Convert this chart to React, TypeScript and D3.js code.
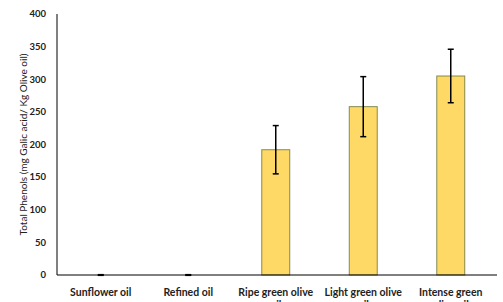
import React from 'react';
import * as d3 from 'd3';

const categories = ['Sunflower oil', 'Refined oil', 'Ripe green olive oil', 'Light green olive oil', 'Intense green olive oil'];
const labelLines = [['Sunflower oil'], ['Refined oil'], ['Ripe green olive', 'oil'], ['Light green olive', 'oil'], ['Intense green', 'olive oil']];
const values = [0, 0, 192, 258, 305];
const errors = [0.5, 0.5, 37, 46, 41];
const yTicks = [0, 50, 100, 150, 200, 250, 300, 350, 400];

const width = 503;
const height = 302;
const margin = { top: 14, right: 8, bottom: 27, left: 57 };

export default function App() {
  const x = d3
    .scaleBand<string>()
    .domain(categories)
    .range([margin.left, 494.5])
    .paddingInner(0.68)
    .paddingOuter(0.34);

  const y = d3
    .scaleLinear()
    .domain([0, 400])
    .range([height - margin.bottom, margin.top]);

  const font = 'Lato, "Open Sans", sans-serif';

  return (
    <svg
      width={width}
      height={height}
      style={{ position: 'absolute', left: 0, top: 0 }}
      viewBox={`0 0 ${width} ${height}`}
    >
      <rect width={width} height={height} fill='white' />
      {categories.map((c, i) => (
        <rect
          key={c}
          x={x(c)}
          y={y(values[i])}
          width={x.bandwidth()}
          height={y(0) - y(values[i])}
          fill='#fed966'
          stroke='#4f6228'
          strokeOpacity={0.7}
          strokeWidth={1}
        />
      ))}
      {categories.map((c, i) => {
        const cx = (x(c) || 0) + x.bandwidth() / 2;
        const y1 = y(values[i] + errors[i]);
        const y2 = y(values[i] - errors[i]);
        return (
          <g key={c} stroke='black' strokeWidth={1.5}>
            <line x1={cx} x2={cx} y1={y1} y2={y2} />
            <line x1={cx - 3} x2={cx + 3} y1={y1} y2={y1} />
            <line x1={cx - 3} x2={cx + 3} y1={y2} y2={y2} />
          </g>
        );
      })}
      <line x1={margin.left} x2={margin.left} y1={y(400)} y2={y(0)} stroke='black' strokeWidth={1} />
      <line x1={margin.left} x2={497} y1={y(0)} y2={y(0)} stroke='black' strokeWidth={1} />
      {yTicks.map((t) => (
        <text
          key={t}
          x={46}
          y={y(t)}
          dy='0.35em'
          textAnchor='end'
          fontFamily={font}
          fontWeight='bold'
          fontSize={9.5}
          fill='#222'
        >
          {t}
        </text>
      ))}
      {categories.map((c, i) => (
        <text
          key={c}
          x={(x(c) || 0) + x.bandwidth() / 2}
          y={296}
          textAnchor='middle'
          fontFamily={font}
          fontWeight='bold'
          fontSize={10.5}
          fill='#222'
        >
          {labelLines[i].map((l, j) => (
            <tspan key={j} x={(x(c) || 0) + x.bandwidth() / 2} dy={j === 0 ? 0 : 13}>
              {l}
            </tspan>
          ))}
        </text>
      ))}
      <text
        transform={`translate(23,${(y(0) + y(400)) / 2}) rotate(-90)`}
        textAnchor='middle'
        dy='0.35em'
        fontFamily={font}
        fontSize={10}
        fill='#222'
      >
        Total Phenols (mg Galic acid/ Kg Olive oil)
      </text>
    </svg>
  );
}
